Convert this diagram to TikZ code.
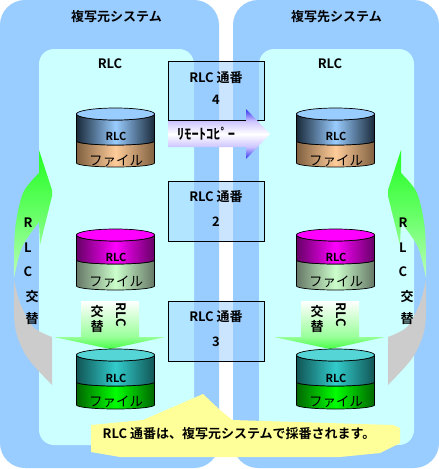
\documentclass[tikz,border=0pt]{standalone}
\usepackage{fontspec}
\setmainfont{Noto Sans CJK JP}[BoldFont={Noto Sans CJK JP Bold}]
\usetikzlibrary{shadings}
\definecolor{panelblue}{HTML}{99CCFF}
\definecolor{panelcyan}{HTML}{CCFFFF}
\definecolor{note}{HTML}{FFFF99}
\definecolor{crgray}{HTML}{CCCCCC}
\definecolor{aD}{HTML}{1A2A3A}\definecolor{aF}{HTML}{7F6040}\definecolor{aL}{HTML}{FFCC99}
\definecolor{bD}{HTML}{660066}\definecolor{bF}{HTML}{667766}\definecolor{bL}{HTML}{CCFFCC}\definecolor{bT}{HTML}{FF00FF}
\definecolor{cT}{HTML}{55D5D5}\definecolor{cD}{HTML}{115555}\definecolor{cM}{HTML}{33CCCC}\definecolor{cF}{HTML}{006600}\definecolor{cL}{HTML}{00FF00}
\definecolor{grA}{HTML}{22FF22}\definecolor{grB}{HTML}{66FF66}\definecolor{grC}{HTML}{BBFFBB}
\definecolor{blA}{HTML}{3333EE}\definecolor{blB}{HTML}{CCC4FF}\definecolor{arrG}{HTML}{44FF44}\definecolor{arrH}{HTML}{99FF99}
\pgfdeclareverticalshading{copyarrow}{100bp}{color(0bp)=(blA);color(25bp)=(blA);color(37bp)=(blB);color(50bp)=(white);color(63bp)=(blB);color(75bp)=(blA);color(100bp)=(blA)}
\pgfdeclareverticalshading{downarrow}{100bp}{color(0bp)=(arrG);color(25bp)=(arrG);color(38bp)=(arrH);color(75bp)=(white);color(100bp)=(white)}
\tikzset{
  panel/.style={fill=panelblue,draw=none,rounded corners=25pt},
  innerpanel/.style={fill=panelcyan,draw=none,rounded corners=15pt},
  seqbox/.style={fill=panelblue,fill opacity=.5},
  seqedge/.style={draw=black,line width=.7pt},
  lbl/.style={inner sep=0pt,font=\fontsize{13}{13}\selectfont\bfseries,text=black},
  filelbl/.style={inner sep=0pt,font=\fontsize{13.5}{13.5}\selectfont,text=black},
  copylbl/.style={inner sep=0pt,font=\fontsize{14.5}{14.5}\selectfont\bfseries,text=black},
  smalllbl/.style={inner sep=0pt,font=\fontsize{11}{11}\selectfont\bfseries,text=black},
  cylpart/.style={draw=black,line width=.7pt},
}
% cx, top y, boundary edge y, bottom edge y, top colour, dark1, light1, dark2, light2
\newcommand{\cylinder}[9]{%
  \path[cylpart,left color=#8,right color=#8,middle color=#9]
    (#1-39,#3) -- (#1-39,#4) arc[start angle=180,end angle=0,x radius=39,y radius=4] -- (#1+39,#3)
    arc[start angle=0,end angle=180,x radius=39,y radius=4] -- cycle;
  \path[cylpart,left color=#6,right color=#6,middle color=#7]
    (#1-39,#2+6) -- (#1-39,#3) arc[start angle=180,end angle=0,x radius=39,y radius=4] -- (#1+39,#2+6)
    arc[start angle=0,end angle=180,x radius=39,y radius=6] -- cycle;
  \path[cylpart,fill=#5] (#1,#2+6) ellipse[x radius=39,y radius=6];
}
\newcommand{\crescent}{%
  \path[top color=grA,bottom color=grC,middle color=grB]
    (39,150) -- (52,190) -- (52,196) -- (40,245) -- (39,222)
    -- plot[smooth] coordinates {(39,222) (22,247) (14,278)}
    -- plot[smooth] coordinates {(14,278) (15,230) (23,193) (39,173)} -- cycle;
  \path[fill=crgray]
    (14,280) -- plot[smooth] coordinates {(14,280) (15,327) (27,357) (52,385)}
    -- (52,337)
    -- plot[smooth] coordinates {(52,337) (33,327) (20,303) (14,280)} -- cycle;
}
\newcommand{\downarr}[1]{%
  \path[shading=downarrow]
    (#1-29,301) -- (#1+29,301) -- (#1+29,337) -- (#1+55,337) -- (#1,349) -- (#1-56,337) -- (#1-29,337) -- cycle;
}
\begin{document}
\begin{tikzpicture}[x=1pt,y=-1pt]
\useasboundingbox (0,0) rectangle (439,469);
\fill[white] (0,0) rectangle (439,469);
\path[panel] (0,0) rectangle (219,468);
\path[panel] (233,0) rectangle (439,468);
\path[innerpanel] (39,49) rectangle (194,445);
\path[innerpanel] (259,49) rectangle (414,445);
\crescent
\begin{scope}[xshift=440pt,xscale=-1]\crescent\end{scope}
\path[seqbox] (168,61) rectangle (264,120);
\path[seqbox] (168,181) rectangle (264,241);
\path[seqbox] (168,301) rectangle (264,361);
\path[seqedge] (168,61) rectangle (264,120);
\path[seqedge] (168,181) rectangle (264,241);
\path[seqedge] (168,301) rectangle (264,361);
\downarr{110}
\downarr{330}
\cylinder{115.5}{108}{141}{163}{panelblue}{aD}{panelblue}{aF}{aL}
\cylinder{335.5}{108}{141}{163}{panelblue}{aD}{panelblue}{aF}{aL}
\cylinder{115.5}{229}{260}{286}{bT}{bD}{bT}{bF}{bL}
\cylinder{335.5}{229}{260}{286}{bT}{bD}{bT}{bF}{bL}
\cylinder{115.5}{349}{382}{405}{cT}{cD}{cM}{cF}{cL}
\cylinder{335.5}{349}{382}{405}{cT}{cD}{cM}{cF}{cL}
\path[shading=copyarrow]
  (168,121) -- (246,121) -- (246,109) -- (270,134) -- (246,159) -- (246,147) -- (168,147) -- cycle;
\path[fill=note] (91,425) -- (143,420) -- (203,394) -- (220,410) -- (232,420) -- (393,425) -- (400,428) -- (400,443) -- (380,453) -- (340,457) -- (120,457) -- (91,452) -- cycle;
\node[lbl] (titleL) at (116.5,17) {複写元システム};
\node[lbl] (titleR) at (336.5,17) {複写先システム};
\node[lbl] (rlcL) at (110,64) {RLC};
\node[lbl] (rlcR) at (330,64) {RLC};
\node[lbl] (b1a) at (216,78) {RLC 通番};
\node[lbl] (b1b) at (216,100) {4};
\node[lbl] (b2a) at (216,197) {RLC 通番};
\node[lbl] (b2b) at (216,222) {2};
\node[lbl] (b3a) at (216,317) {RLC 通番};
\node[lbl] (b3b) at (216,342) {3};
\node[copylbl] (copy) at (206,134) {ﾘﾓｰﾄｺﾋﾟｰ};
\foreach \cx/\n in {116/L,336/R}{
  \node[smalllbl] (c1\n) at (\cx,136) {RLC};
  \node[filelbl] (f1\n) at (\cx,161) {ファイル};
  \node[smalllbl] (c2\n) at (\cx,257) {RLC};
  \node[filelbl] (f2\n) at (\cx,282) {ファイル};
  \node[smalllbl] (c3\n) at (\cx,378) {RLC};
  \node[filelbl] (f3\n) at (\cx,402) {ファイル};
}
\foreach \x/\n in {28/L,403/R}{
  \node[lbl] (r\n) at (\x,223) {R};
  \node[lbl] (l\n) at (\x,248) {L};
  \node[lbl] (cc\n) at (\x,272) {C};
}
\foreach \x/\n in {32/L,407/R}{
  \node[lbl] (k\n) at (\x,297) {交};
  \node[lbl] (t\n) at (\x,319) {替};
}
\foreach \x/\n in {97/L,317/R}{
  \node[lbl] (ka\n) at (\x,312) {交};
  \node[lbl] (ta\n) at (\x,327) {替};
  \node[lbl,rotate=-90] (ra\n) at (\x+24,315) {RLC};
}
\node[lbl] (notetext) at (239,434) {RLC 通番は、複写元システムで採番されます。};
\end{tikzpicture}
\end{document}
